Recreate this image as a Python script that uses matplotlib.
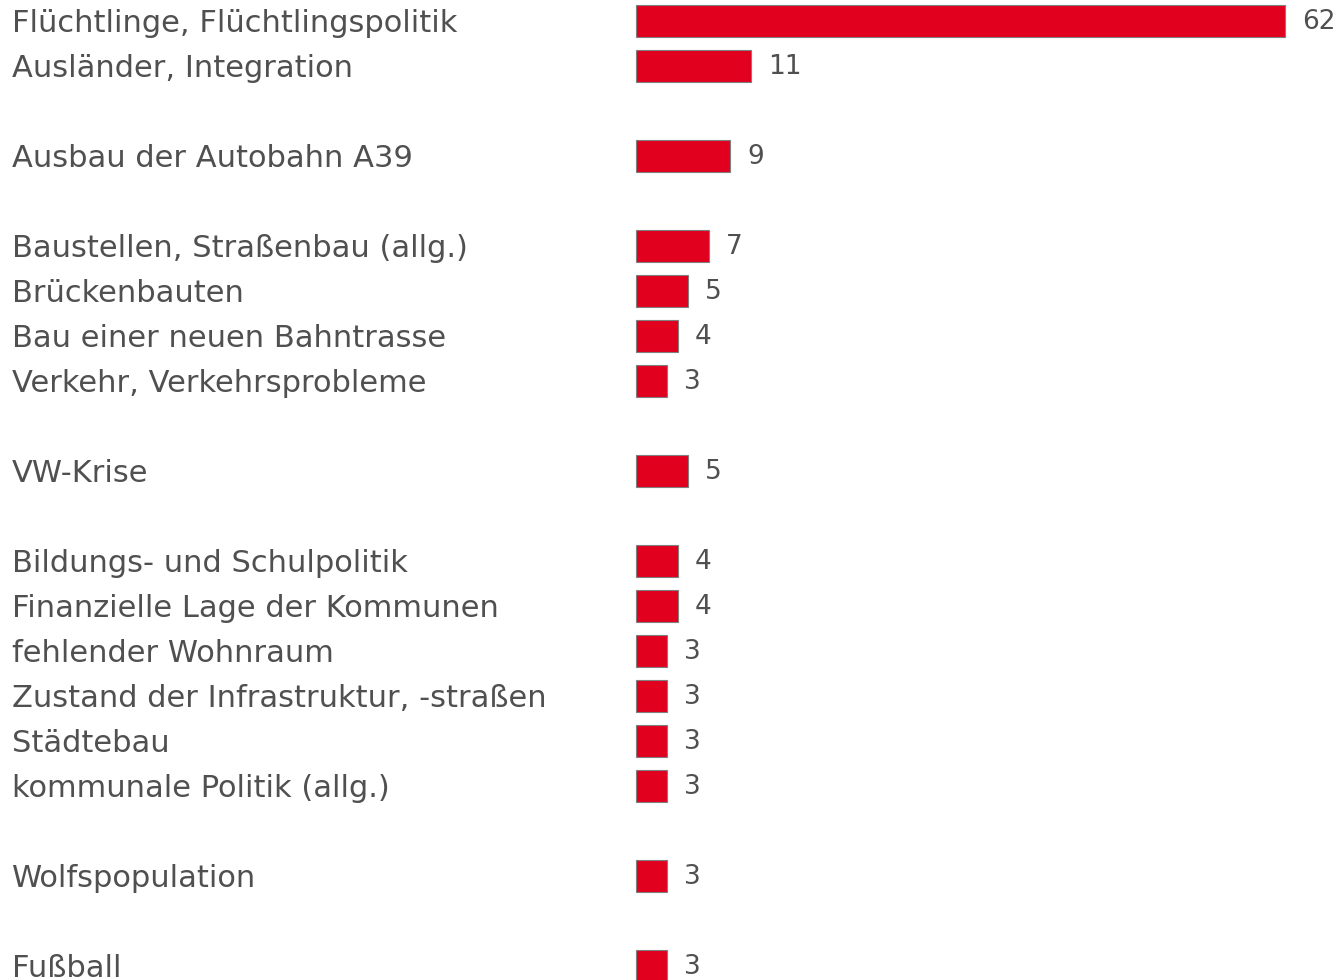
import matplotlib
matplotlib.use("Agg")
import matplotlib.pyplot as plt
import matplotlib.transforms as mtransforms

# topics, grouped as in the reference (blank row between groups)
groups = [
    ["Flüchtlinge, Flüchtlingspolitik", "Ausländer, Integration"],
    ["Ausbau der Autobahn A39"],
    ["Baustellen, Straßenbau (allg.)", "Brückenbauten",
     "Bau einer neuen Bahntrasse", "Verkehr, Verkehrsprobleme"],
    ["VW-Krise"],
    ["Bildungs- und Schulpolitik", "Finanzielle Lage der Kommunen",
     "fehlender Wohnraum", "Zustand der Infrastruktur, -straßen",
     "Städtebau", "kommunale Politik (allg.)"],
    ["Wolfspopulation"],
    ["Fußball"],
]
values = [
    [62, 11],
    [9],
    [7, 5, 4, 3],
    [5],
    [4, 4, 3, 3, 3, 3],
    [3],
    [3],
]

bar_color = "#E2001F"
edge_color = "#7f7f7f"
text_color = "#505050"

labels, vals, pos = [], [], []
row = 0
for g_labels, g_vals in zip(groups, values):
    for lab, v in zip(g_labels, g_vals):
        labels.append(lab)
        vals.append(v)
        pos.append(row)
        row += 1
    row += 1  # gap between groups

W, H = 1341, 980
fig = plt.figure(figsize=(W / 100, H / 100), dpi=100)
x0 = 636
ax = fig.add_axes([x0 / W, 0, 1 - x0 / W, 1])
px_unit = (1285 - x0) / 62
row_px = 45
ax.set_xlim(0, (W - x0) / px_unit)
ax.set_ylim((H - 21) / row_px, -21 / row_px)
ax.axis("off")

ax.barh(pos, vals, height=0.71, color=bar_color, edgecolor=edge_color,
        linewidth=0.8, clip_on=False)

trans = mtransforms.blended_transform_factory(fig.transFigure, ax.transData)
for lab, v, y in zip(labels, vals, pos):
    ax.annotate(lab, (12 / W, y), xycoords=trans, xytext=(0, -1.5),
                textcoords="offset points", ha="left", va="center",
                fontsize=22, color=text_color, family="DejaVu Sans")
    ax.annotate(str(v), (v, y), xytext=(12, -1), textcoords="offset points",
                ha="left", va="center", fontsize=19, color=text_color,
                annotation_clip=False)

fig.savefig("out.png", dpi=100)
